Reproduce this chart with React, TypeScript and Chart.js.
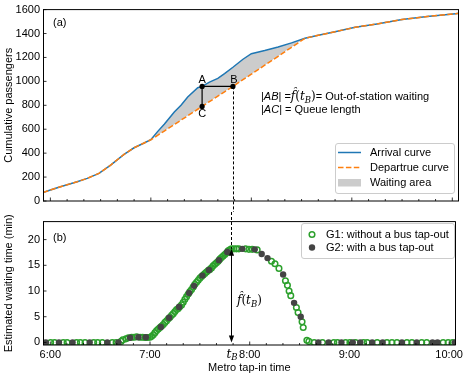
import React, { useEffect, useRef } from 'react';
import { Chart, registerables } from 'chart.js';
Chart.register(...registerables);

// ---------- data ----------
// minutes after 6:00
const curveTimes = [-4.4, 0, 6, 16, 22, 29, 36, 44, 50, 56, 60, 64, 68, 74, 78, 82, 88, 90.6, 95, 100, 104, 109, 115, 120, 128, 136, 144, 152, 160, 170, 182, 195, 210, 225, 242, 244];
const arrivalCurve = [70, 92, 119, 161, 189, 231, 300, 390, 445, 485, 512, 580, 642, 744, 800, 869, 947, 958, 994, 1025, 1065, 1118, 1185, 1231, 1258, 1288, 1322, 1360, 1385, 1415, 1452, 1480, 1517, 1542, 1566, 1569];
const departureCurve = [70, 92, 119, 161, 189, 231, 300, 390, 445, 485, 512, 548, 585, 639, 676, 712, 767, 791, 831, 876, 913, 958, 1014, 1060, 1135, 1210, 1285, 1360, 1385, 1415, 1452, 1480, 1517, 1542, 1566, 1569];
const cumTicks = [0, 200, 400, 600, 800, 1000, 1200, 1400, 1600];
const hourTicks = [0, 60, 120, 180, 240];
const hourLabels = ['6:00', '7:00', '8:00', '9:00', '10:00'];
const waitTicks = [0, 5, 10, 15, 20];

const g1Times = [0.2, 2.6, 7.8, 10.1, 15.8, 18.1, 20.9, 26.1, 28.5, 31.3, 37.3, 39.6, 42.6, 43.6, 45.5, 47, 49, 50.5, 52, 54, 55.5, 57, 58.5, 60, 61, 62, 63, 64, 65, 66, 67, 68, 69, 70, 71, 72, 73, 74, 75, 76, 77, 78, 79, 80, 81, 82, 83, 84, 85, 86, 87, 88, 89, 90, 91, 92, 93, 94, 95, 96, 97, 98, 99, 100, 101, 102, 103, 104, 105, 106, 107, 108, 109, 110.5, 112, 113.5, 117.5, 119.5, 121.5, 124.5, 133.1, 135.2, 137.6, 141.5, 142.7, 143.7, 144.7, 148.1, 149.1, 151.5, 152.2, 154.4, 155.6, 158.8, 163.8, 170.6, 172.8, 177.7, 180.3, 183.7, 188.5, 190.7, 196.7, 202.6, 205.6, 208.6, 214.6, 217.6, 223.5, 226.5, 236.4, 239.4, 242.1];
const g1Waits = [0, 0, 0, 0, 0, 0, 0, 0, 0, 0, 0, 0, 0.2, 0.5, 0.7, 0.9, 1.0, 1.0, 1.1, 1.0, 1.0, 0.95, 0.95, 1.0, 1.2, 1.5, 1.9, 2.3, 2.6, 2.9, 3.2, 3.5, 3.9, 4.2, 4.6, 4.9, 5.3, 5.6, 6.0, 6.4, 6.6, 7.0, 7.3, 7.8, 8.4, 8.9, 9.4, 9.9, 10.3, 10.8, 11.3, 11.7, 12.1, 12.5, 12.8, 13.1, 13.4, 13.7, 14.0, 14.2, 14.5, 14.9, 15.2, 15.5, 15.8, 16.2, 16.5, 16.8, 17.1, 17.4, 17.8, 18.0, 18.2, 18.2, 18.2, 18.2, 18.2, 18.1, 18.1, 18.0, 15.8, 15.3, 14.4, 12.0, 11.1, 10.0, 9.1, 6.8, 5.8, 4.0, 2.9, 0.4, 0.2, 0, 0, 0, 0, 0, 0, 0, 0, 0, 0, 0, 0, 0, 0, 0, 0, 0, 0, 0, 0];
const g2Times = [-2.7, 5.2, 13.4, 23.7, 34.3, 41, 48, 53, 57.5, 66.5, 71.5, 77.5, 83.5, 86.5, 91.5, 95.5, 101.5, 106.5, 115.5, 123, 127.2, 130.7, 140.1, 146.7, 150.7, 161.3, 167.5, 175.2, 182, 186.5, 193.7, 200, 211.6, 220.5, 230, 233, 243.5];
const g2Waits = [0, 0, 0, 0, 0, 0, 0.9, 1.0, 1.0, 3.0, 4.8, 6.9, 9.6, 11.0, 13.0, 14.1, 16.0, 17.6, 18.2, 18.1, 17.2, 16.4, 13.2, 7.7, 5.0, 0, 0, 0, 0, 0, 0, 0, 0, 0, 0, 0, 0];

const pointA = { t: 90.6, v: 958 };
const tB = 109;
const queueC = 791;
const waitAtTB = 18.2;

const X_MIN = -4.4;
const X_MAX = 244;
const SANS = '"Liberation Sans", Arial, sans-serif';
const SERIF = '"DejaVu Serif", serif';
const FS = 11;

type Run = { text: string; font: string; dy?: number };
function drawRuns(ctx: CanvasRenderingContext2D, x: number, y: number, runs: Run[]) {
  let cx = x;
  ctx.textAlign = 'left';
  ctx.textBaseline = 'alphabetic';
  for (const r of runs) {
    ctx.font = r.font;
    ctx.fillText(r.text, cx, y + (r.dy || 0));
    cx += ctx.measureText(r.text).width;
  }
}

function drawFrame(chart: any, yTickVals: number[]) {
  const { ctx, chartArea, scales } = chart;
  const { left, right, top, bottom } = chartArea;
  ctx.save();
  ctx.strokeStyle = '#000';
  ctx.lineWidth = 1;
  ctx.beginPath();
  ctx.moveTo(Math.round(left) + 0.5, top);
  ctx.lineTo(Math.round(left) + 0.5, bottom);
  ctx.moveTo(Math.round(right) - 0.5, top);
  ctx.lineTo(Math.round(right) - 0.5, bottom);
  ctx.moveTo(left, top);
  ctx.lineTo(right, top);
  ctx.moveTo(left, bottom);
  ctx.lineTo(right, bottom);
  ctx.stroke();
  // x ticks (inward)
  ctx.lineWidth = 0.8;
  ctx.beginPath();
  for (let m = 0; m <= 240; m += 10) {
    const px = scales.x.getPixelForValue(m);
    const len = m % 60 === 0 ? 3.5 : 2;
    ctx.moveTo(px, bottom);
    ctx.lineTo(px, bottom - len);
  }
  for (const v of yTickVals) {
    const py = scales.y.getPixelForValue(v);
    ctx.moveTo(left, py);
    ctx.lineTo(left + 3.5, py);
  }
  ctx.stroke();
  ctx.restore();
}

function drawLegendBox(ctx: CanvasRenderingContext2D, x: number, y: number, w: number, h: number) {
  const r = 2.5;
  ctx.save();
  ctx.beginPath();
  ctx.moveTo(x + r, y);
  ctx.lineTo(x + w - r, y);
  ctx.quadraticCurveTo(x + w, y, x + w, y + r);
  ctx.lineTo(x + w, y + h - r);
  ctx.quadraticCurveTo(x + w, y + h, x + w - r, y + h);
  ctx.lineTo(x + r, y + h);
  ctx.quadraticCurveTo(x, y + h, x, y + h - r);
  ctx.lineTo(x, y + r);
  ctx.quadraticCurveTo(x, y, x + r, y);
  ctx.closePath();
  ctx.fillStyle = 'rgba(255,255,255,0.85)';
  ctx.fill();
  ctx.strokeStyle = '#cccccc';
  ctx.lineWidth = 1;
  ctx.stroke();
  ctx.restore();
}

const decorA = {
  id: 'decorA',
  afterDraw(chart: any) {
    const { ctx, scales, chartArea } = chart;
    const xs = scales.x, ys = scales.y;
    const ax = xs.getPixelForValue(pointA.t);
    const ay = ys.getPixelForValue(pointA.v);
    const bx = xs.getPixelForValue(tB);
    const cy = ys.getPixelForValue(queueC);
    ctx.save();
    // dashed vertical from B down
    ctx.strokeStyle = '#000';
    ctx.lineWidth = 1;
    ctx.setLineDash([3, 2]);
    ctx.beginPath();
    ctx.moveTo(Math.round(bx) + 0.5, ay);
    ctx.lineTo(Math.round(bx) + 0.5, chart.height);
    ctx.stroke();
    ctx.setLineDash([]);
    ctx.lineWidth = 1.2;
    ctx.beginPath();
    ctx.moveTo(ax, ay);
    ctx.lineTo(bx, ay);
    ctx.moveTo(ax, ay);
    ctx.lineTo(ax, cy);
    ctx.stroke();
    ctx.fillStyle = '#000';
    for (const [px, py] of [[ax, ay], [bx, ay], [ax, cy]]) {
      ctx.beginPath();
      ctx.arc(px, py, 2.6, 0, Math.PI * 2);
      ctx.fill();
    }
    ctx.font = `${FS}px ${SANS}`;
    ctx.textAlign = 'center';
    ctx.textBaseline = 'middle';
    ctx.fillText('A', ax, ay - 6);
    ctx.fillText('B', bx + 1, ay - 6);
    ctx.fillText('C', ax, cy + 8);

    // annotation
    const f = `${FS}px ${SANS}`;
    const fi = `italic ${FS}px ${SANS}`;
    const sf = `12px ${SERIF}`;
    const sfi = `italic 12px ${SERIF}`;
    const sfs = `italic 8.5px ${SERIF}`;
    drawRuns(ctx, 261, 100, [
      { text: '|', font: f }, { text: 'AB', font: fi }, { text: '| =', font: f },
      { text: 'f\u0302', font: sfi }, { text: '(', font: sf }, { text: 't', font: sfi },
      { text: 'B', font: sfs, dy: 2.5 }, { text: ')', font: sf },
      { text: '= Out-of-station waiting', font: f },
    ]);
    drawRuns(ctx, 261, 113, [
      { text: '|', font: f }, { text: 'AC', font: fi }, { text: '| = Queue length', font: f },
    ]);

    // legend
    drawLegendBox(ctx, 335.5, 143.5, 119, 50);
    ctx.lineWidth = 1.5;
    ctx.strokeStyle = '#1f77b4';
    ctx.beginPath(); ctx.moveTo(338, 152.5); ctx.lineTo(361, 152.5); ctx.stroke();
    ctx.strokeStyle = '#ff7f0e';
    ctx.setLineDash([5.5, 2.4]);
    ctx.beginPath(); ctx.moveTo(338, 167.5); ctx.lineTo(361, 167.5); ctx.stroke();
    ctx.setLineDash([]);
    ctx.fillStyle = 'rgba(128,128,128,0.4)';
    ctx.fillRect(338, 179, 23, 7.5);
    ctx.fillStyle = '#000';
    ctx.font = f;
    ctx.textAlign = 'left';
    ctx.textBaseline = 'middle';
    ctx.fillText('Arrival curve', 370, 152.5);
    ctx.fillText('Departrue curve', 370, 167.5);
    ctx.fillText('Waiting area', 370, 182.5);

    ctx.fillText('(a)', 53, 22.5);

    // y title
    ctx.save();
    ctx.translate(9, (chartArea.top + chartArea.bottom) / 2);
    ctx.rotate(-Math.PI / 2);
    ctx.textAlign = 'center';
    ctx.textBaseline = 'middle';
    ctx.fillText('Cumulative passengers', 0, 0);
    ctx.restore();
    ctx.restore();

    drawFrame(chart, cumTicks);
  },
};

const decorB = {
  id: 'decorB',
  afterDraw(chart: any) {
    const { ctx, scales, chartArea } = chart;
    const xs = scales.x, ys = scales.y;
    const bx = Math.round(xs.getPixelForValue(tB)) + 0.5;
    const y0 = ys.getPixelForValue(0);
    const yTop = ys.getPixelForValue(waitAtTB);
    ctx.save();
    ctx.strokeStyle = '#000';
    ctx.fillStyle = '#000';
    ctx.lineWidth = 1;
    ctx.setLineDash([3, 2]);
    ctx.beginPath();
    ctx.moveTo(bx, 0);
    ctx.lineTo(bx, yTop);
    ctx.stroke();
    ctx.setLineDash([]);
    ctx.beginPath();
    ctx.moveTo(bx, yTop + 5);
    ctx.lineTo(bx, y0 - 5);
    ctx.stroke();
    // arrow heads
    ctx.beginPath();
    ctx.moveTo(bx, yTop);
    ctx.lineTo(bx - 2.6, yTop + 7);
    ctx.lineTo(bx + 2.6, yTop + 7);
    ctx.closePath();
    ctx.fill();
    ctx.beginPath();
    ctx.moveTo(bx, y0);
    ctx.lineTo(bx - 2.6, y0 - 7);
    ctx.lineTo(bx + 2.6, y0 - 7);
    ctx.closePath();
    ctx.fill();

    drawRuns(ctx, 237, 92, [
      { text: 'f\u0302', font: `italic 12px ${SERIF}` }, { text: '(', font: `12px ${SERIF}` },
      { text: 't', font: `italic 12px ${SERIF}` }, { text: 'B', font: `italic 8.5px ${SERIF}`, dy: 2.5 },
      { text: ')', font: `12px ${SERIF}` },
    ]);

    // legend
    drawLegendBox(ctx, 301.5, 11.5, 153, 35);
    ctx.lineWidth = 1.5;
    ctx.strokeStyle = '#2ca02c';
    ctx.beginPath(); ctx.arc(312, 22.5, 2.8, 0, Math.PI * 2); ctx.stroke();
    ctx.fillStyle = '#444';
    ctx.beginPath(); ctx.arc(312, 35.5, 3.2, 0, Math.PI * 2); ctx.fill();
    ctx.fillStyle = '#000';
    ctx.font = `${FS}px ${SANS}`;
    ctx.textAlign = 'left';
    ctx.textBaseline = 'middle';
    ctx.fillText('G1: without a bus tap-out', 326, 22.5);
    ctx.fillText('G2: with a bus tap-out', 326, 35.5);
    ctx.fillText('(b)', 53, 25.5);

    // t_B label below axis
    drawRuns(ctx, xs.getPixelForValue(tB) - 5, chartArea.bottom + 12.5, [
      { text: 't', font: `italic 12px ${SERIF}` }, { text: 'B', font: `italic 8.5px ${SERIF}`, dy: 2.5 },
    ]);

    ctx.font = `${FS}px ${SANS}`;
    ctx.textAlign = 'center';
    ctx.textBaseline = 'middle';
    ctx.fillText('Metro tap-in time', (chartArea.left + chartArea.right) / 2, 156);
    ctx.save();
    ctx.translate(9, (chartArea.top + chartArea.bottom) / 2);
    ctx.rotate(-Math.PI / 2);
    ctx.fillText('Estimated waiting time (min)', 0, 0);
    ctx.restore();
    ctx.restore();

    drawFrame(chart, waitTicks);
  },
};

export default function App() {
  const refA = useRef<HTMLCanvasElement>(null);
  const refB = useRef<HTMLCanvasElement>(null);

  useEffect(() => {
    Chart.defaults.font.family = SANS;
    Chart.defaults.font.size = FS;
    Chart.defaults.color = '#000';

    const chartA = new Chart(refA.current!, {
      type: 'line',
      data: {
        datasets: [
          {
            label: 'Departrue curve',
            data: curveTimes.map((t, i) => ({ x: t, y: departureCurve[i] })),
            borderColor: '#ff7f0e',
            borderWidth: 1.5,
            borderDash: [5.5, 2.4],
            pointRadius: 0,
            fill: false,
            tension: 0,
          },
          {
            label: 'Arrival curve',
            data: curveTimes.map((t, i) => ({ x: t, y: arrivalCurve[i] })),
            borderColor: '#1f77b4',
            borderWidth: 1.5,
            pointRadius: 0,
            tension: 0,
            fill: { target: 0, above: 'rgba(128,128,128,0.4)', below: 'rgba(0,0,0,0)' },
          },
        ],
      },
      options: {
        responsive: false,
        animation: false,
        devicePixelRatio: 1,
        layout: { padding: { top: 9, right: 7, bottom: 11, left: 0 } },
        plugins: { legend: { display: false }, tooltip: { enabled: false } },
        scales: {
          x: { type: 'linear', min: X_MIN, max: X_MAX, display: false },
          y: {
            min: 0,
            max: 1600,
            afterBuildTicks: (s: any) => { s.ticks = cumTicks.map((v) => ({ value: v })); },
            ticks: {
              padding: 3, color: '#000', font: { size: FS, family: SANS },
              callback: (v: any) => String(v),
            },
            grid: { display: false, drawTicks: false },
            border: { display: false },
            afterFit: (s: any) => { s.width = 43; },
          },
        },
      },
      plugins: [decorA],
    } as any);

    const chartB = new Chart(refB.current!, {
      type: 'scatter',
      data: {
        datasets: [
          {
            label: 'G2: with a bus tap-out',
            data: g2Times.map((t, i) => ({ x: t, y: g2Waits[i] })),
            backgroundColor: '#444444',
            borderColor: '#444444',
            borderWidth: 0,
            pointRadius: 3.2,
          },
          {
            label: 'G1: without a bus tap-out',
            data: g1Times.map((t, i) => ({ x: t, y: g1Waits[i] })),
            backgroundColor: 'rgba(0,0,0,0)',
            borderColor: '#2ca02c',
            borderWidth: 1.5,
            pointRadius: 2.8,
          },
        ],
      },
      options: {
        responsive: false,
        animation: false,
        devicePixelRatio: 1,
        layout: { padding: { top: 6, right: 7, bottom: 0, left: 0 } },
        plugins: { legend: { display: false }, tooltip: { enabled: false } },
        scales: {
          x: {
            type: 'linear',
            min: X_MIN,
            max: X_MAX,
            afterBuildTicks: (s: any) => { s.ticks = hourTicks.map((v) => ({ value: v })); },
            ticks: {
              padding: 3,
              autoSkip: false,
              maxRotation: 0,
              color: '#000',
              font: { size: FS, family: SANS },
              callback: (_v: any, i: number) => hourLabels[i],
            },
            grid: { display: false, drawTicks: false },
            border: { display: false },
            afterFit: (s: any) => { s.height = 30; },
          },
          y: {
            min: -0.5,
            max: 23.5,
            afterBuildTicks: (s: any) => { s.ticks = waitTicks.map((v) => ({ value: v })); },
            ticks: {
              padding: 3, color: '#000', font: { size: FS, family: SANS },
              callback: (v: any) => String(v),
            },
            grid: { display: false, drawTicks: false },
            border: { display: false },
            afterFit: (s: any) => { s.width = 43; },
          },
        },
      },
      plugins: [decorB],
    } as any);

    return () => {
      chartA.destroy();
      chartB.destroy();
    };
  }, []);

  return (
    <div style={{ position: 'fixed', left: 0, top: 0, width: 466, height: 375, background: '#fff' }}>
      <canvas ref={refA} width={466} height={212} style={{ position: 'absolute', left: 0, top: 0, display: 'block' }} />
      <canvas ref={refB} width={466} height={163} style={{ position: 'absolute', left: 0, top: 212, display: 'block' }} />
    </div>
  );
}
